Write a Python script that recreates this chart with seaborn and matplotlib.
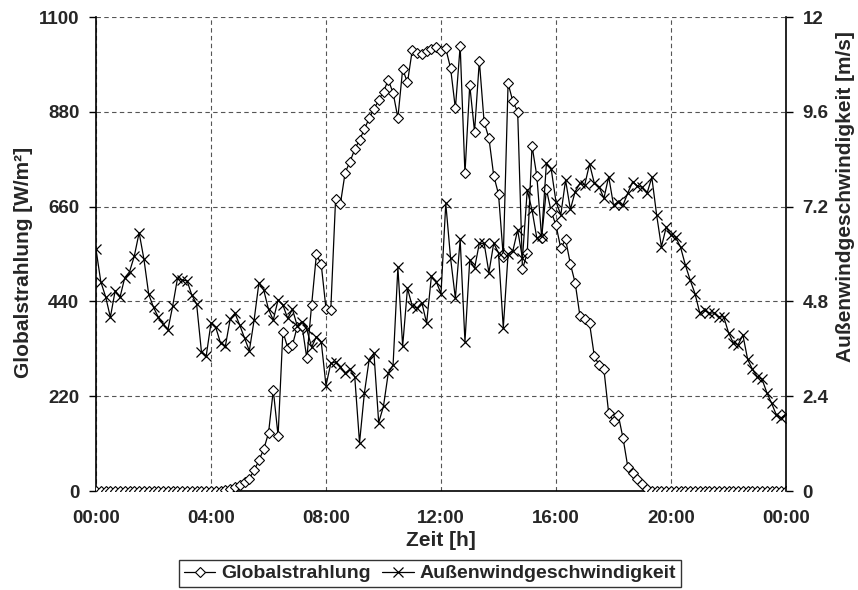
import numpy as np
import pandas as pd
import matplotlib
matplotlib.use("Agg")
import matplotlib.pyplot as plt
import seaborn as sns
from matplotlib.lines import Line2D

# ---------------- data ----------------
zeit_h = [i / 6 for i in range(145)]  # 10-minute steps, 00:00 .. 24:00

globalstrahlung = (
    [0] * 27 +
    [2, 5, 10, 15, 22, 29, 48, 71, 97, 134, 234, 128, 370, 333, 339, 381, 383, 308,
     432, 549, 526, 423, 421, 677, 666, 739, 764, 793, 815, 839, 865, 886, 907, 927,
     954, 924, 866, 979, 948, 1023, 1017, 1014, 1020, 1026, 1030, 1020, 1027, 981,
     888, 1033, 737, 942, 834, 998, 856, 819, 732, 689, 544, 946, 904, 880, 515, 552,
     801, 731, 588, 700, 648, 617, 563, 584, 527, 483, 406, 398, 389, 313, 292, 282,
     180, 163, 176, 122, 55, 41, 29, 16, 4] +
    [0] * 29
)

windgeschw = [
    6.12, 5.30, 4.92, 4.40, 5.07, 4.90, 5.40, 5.55, 5.95, 6.54, 5.87, 4.98, 4.65, 4.40,
    4.23, 4.08, 4.68, 5.38, 5.34, 5.32, 4.96, 4.73, 3.53, 3.42, 4.25, 4.14, 3.74, 3.67,
    4.35, 4.50, 4.20, 3.87, 3.55, 4.33, 5.27, 5.09, 4.60, 4.33, 4.84, 4.71, 4.37, 4.60,
    4.18, 4.29, 4.09, 3.64, 3.91, 3.78, 2.67, 3.23, 3.27, 3.15, 2.98, 3.08, 2.89, 1.22,
    2.47, 3.32, 3.49, 1.73, 2.15, 2.99, 3.19, 5.66, 3.67, 5.13, 4.68, 4.63, 4.77, 4.25,
    5.44, 5.30, 5.00, 7.28, 5.89, 4.88, 6.37, 3.78, 5.85, 5.64, 6.27, 6.27, 5.53, 6.27,
    6.03, 4.13, 6.00, 6.08, 6.61, 5.89, 7.62, 7.11, 6.40, 6.46, 8.30, 8.15, 7.32, 6.99,
    7.87, 7.13, 7.58, 7.79, 7.75, 8.28, 7.79, 7.70, 7.41, 7.96, 7.24, 7.32, 7.24, 7.55,
    7.83, 7.72, 7.69, 7.54, 7.94, 6.99, 6.18, 6.68, 6.48, 6.42, 6.17, 5.72, 5.34, 5.00,
    4.51, 4.58, 4.50, 4.51, 4.41, 4.41, 4.01, 3.75, 3.70, 3.95, 3.33, 3.08, 2.89, 2.83,
    2.49, 2.22, 1.92, 1.85, 1.95,
]

x_ticks = [0, 4, 8, 12, 16, 20, 24]
x_ticklabels = ["00:00", "04:00", "08:00", "12:00", "16:00", "20:00", "00:00"]
left_ticks = [0, 220, 440, 660, 880, 1100]
right_ticks = [0, 2.4, 4.8, 7.2, 9.6, 12]
right_ticklabels = ["0", "2.4", "4.8", "7.2", "9.6", "12"]

df = pd.DataFrame({"zeit": zeit_h, "glob": globalstrahlung, "wind": windgeschw})

# ---------------- style ----------------
sns.set_style("white")
plt.rcParams["font.family"] = ["Liberation Sans", "DejaVu Sans"]
plt.rcParams["font.weight"] = "bold"
FS_TICK = 13.5
FS_LABEL = 15
FS_LEG = 14

fig = plt.figure(figsize=(8.58, 5.90), dpi=100)
ax = fig.add_axes([96 / 858, 1 - 491 / 590, 690 / 858, 474 / 590])
ax2 = ax.twinx()

sns.lineplot(data=df, x="zeit", y="glob", ax=ax, color="black", linewidth=0.9,
             marker="D", markersize=5, markerfacecolor="white",
             markeredgecolor="black", markeredgewidth=0.8, zorder=3)
sns.lineplot(data=df, x="zeit", y="wind", ax=ax2, color="black", linewidth=0.9,
             marker="x", markersize=7, markeredgecolor="black",
             markeredgewidth=0.9, zorder=3)

ax.set_xlim(0, 24)
ax.set_ylim(0, 1100)
ax2.set_ylim(0, 12)
ax.set_xticks(x_ticks)
ax.set_xticklabels(x_ticklabels)
ax.set_yticks(left_ticks)
ax2.set_yticks(right_ticks)
ax2.set_yticklabels(right_ticklabels)

ax.grid(True, linestyle=(0, (4, 3)), color="#555555", linewidth=0.8)
ax2.grid(False)
ax.set_axisbelow(True)

for a in (ax, ax2):
    for s in a.spines.values():
        s.set_color("black")
        s.set_linewidth(1.2)
    a.spines["top"].set_visible(False)
ax.spines["right"].set_visible(False)
ax2.spines["left"].set_visible(False)
ax2.spines["bottom"].set_visible(False)
ax2.spines["right"].set_visible(True)

ax.tick_params(axis="both", direction="out", length=5, width=1, color="black",
               labelsize=FS_TICK, pad=7)
ax.tick_params(axis="x", pad=9)
ax2.tick_params(axis="y", direction="out", length=5, width=1, color="black",
                labelsize=FS_TICK, pad=7)
for lbl in ax.get_xticklabels() + ax.get_yticklabels() + ax2.get_yticklabels():
    lbl.set_fontweight("bold")

ax.set_xlabel("Zeit [h]", fontsize=FS_LABEL, fontweight="bold")
ax.set_ylabel("Globalstrahlung [W/m²]", fontsize=FS_LABEL, fontweight="bold")
ax2.set_ylabel("Außenwindgeschwindigkeit [m/s]", fontsize=FS_LABEL, fontweight="bold")
ax.xaxis.set_label_coords(0.5, (491 - 531) / 474)
ax.yaxis.set_label_coords((33 - 96) / 690, (491 - 262) / 474)
ax2.yaxis.set_label_coords((836 - 96) / 690, (491 - 197) / 474)

handles = [
    Line2D([], [], color="black", linewidth=0.9, marker="D", markersize=5,
           markerfacecolor="white", markeredgecolor="black", markeredgewidth=0.8),
    Line2D([], [], color="black", linewidth=0.9, marker="x", markersize=7,
           markeredgecolor="black", markeredgewidth=0.9),
]
leg = fig.legend(handles, ["Globalstrahlung", "Außenwindgeschwindigkeit"],
                 loc="center", bbox_to_anchor=(430 / 858, 1 - 573.5 / 590),
                 ncol=2, frameon=True, fancybox=False,
                 prop={"weight": "bold", "size": FS_LEG}, handlelength=1.6,
                 handletextpad=0.3, columnspacing=0.6, borderpad=0.25,
                 borderaxespad=0)
leg.get_frame().set_edgecolor("black")
leg.get_frame().set_linewidth(1.0)

fig.savefig("out.png", dpi=100)
